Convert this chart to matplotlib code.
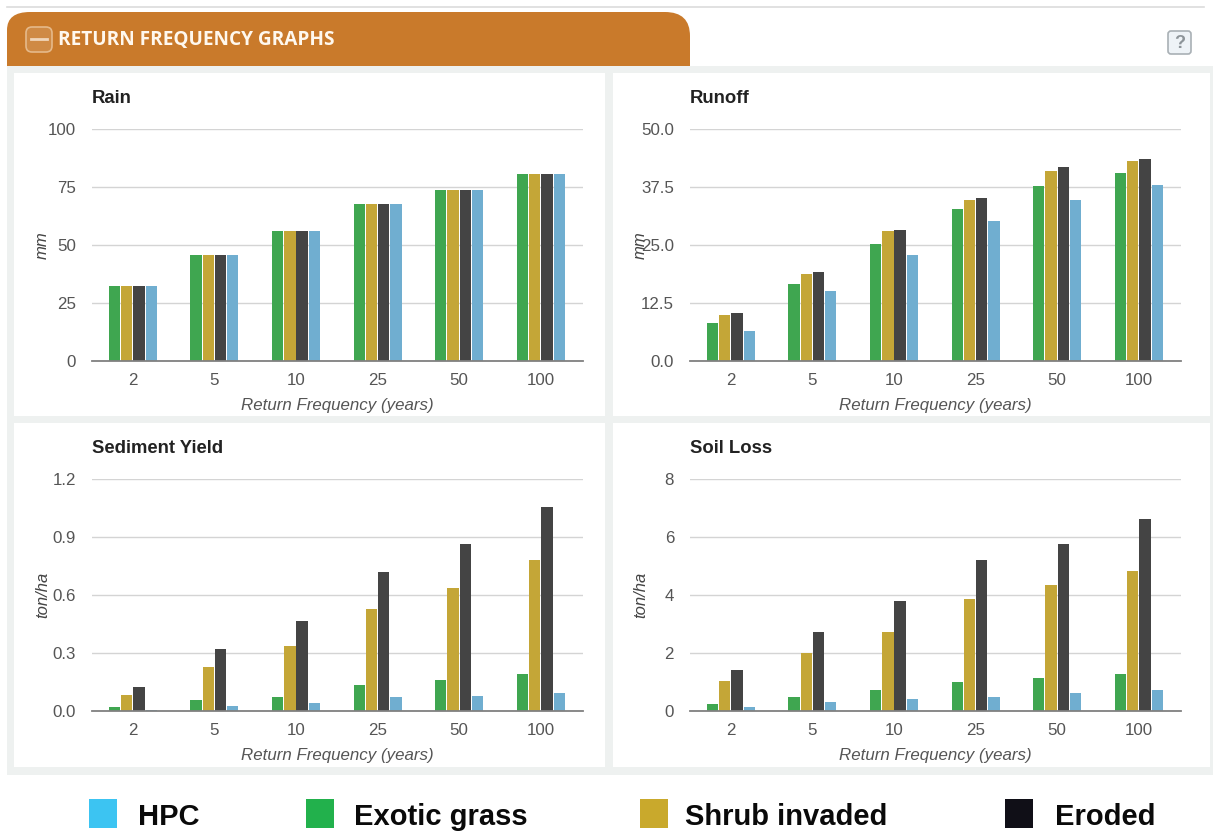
import matplotlib
matplotlib.use("Agg")
import matplotlib.pyplot as plt
import numpy as np
from matplotlib.patches import Rectangle, FancyBboxPatch, PathPatch
from matplotlib.path import Path

W, H = 1213, 831
plt.rcParams['font.family'] = ['Liberation Sans', 'DejaVu Sans']

categories = ['2', '5', '10', '25', '50', '100']
xlabel = 'Return Frequency (years)'

rain_green = [32.5, 45.5, 56, 67.5, 73.5, 80.5]
rain_gold = [32.5, 45.5, 56, 67.5, 73.5, 80.5]
rain_dark = [32.5, 45.5, 56, 67.5, 73.5, 80.5]
rain_blue = [32.5, 45.5, 56, 67.5, 73.5, 80.5]
rain_ticks = ['0', '25', '50', '75', '100']

runoff_green = [8.2, 16.7, 25.3, 32.7, 37.7, 40.5]
runoff_gold = [10.0, 18.8, 28.0, 34.8, 41.0, 43.0]
runoff_dark = [10.3, 19.2, 28.3, 35.2, 41.8, 43.5]
runoff_blue = [6.5, 15.0, 22.8, 30.2, 34.8, 38.0]
runoff_ticks = ['0.0', '12.5', '25.0', '37.5', '50.0']

sed_green = [0.02, 0.055, 0.075, 0.135, 0.16, 0.19]
sed_gold = [0.085, 0.23, 0.335, 0.53, 0.635, 0.78]
sed_dark = [0.125, 0.32, 0.465, 0.72, 0.865, 1.055]
sed_blue = [0.005, 0.025, 0.04, 0.07, 0.08, 0.095]
sed_ticks = ['0.0', '0.3', '0.6', '0.9', '1.2']

soil_green = [0.25, 0.5, 0.72, 1.0, 1.15, 1.27]
soil_gold = [1.05, 2.0, 2.72, 3.85, 4.33, 4.82]
soil_dark = [1.42, 2.72, 3.8, 5.22, 5.77, 6.62]
soil_blue = [0.13, 0.3, 0.42, 0.5, 0.62, 0.73]
soil_ticks = ['0', '2', '4', '6', '8']

legend_labels = ['HPC', 'Exotic grass', 'Shrub invaded', 'Eroded']
legend_colors = ['#3cc4f2', '#22b14c', '#c9a92c', '#100f17']
bar_colors = ['#3fa650', '#c4a637', '#444444', '#70aed0']

fig = plt.figure(figsize=(W / 100, H / 100), dpi=100, facecolor='white')

# page chrome, in pixel coordinates
bg = fig.add_axes([0, 0, 1, 1], zorder=0)
bg.set_xlim(0, W); bg.set_ylim(H, 0); bg.axis('off')
bg.plot([7, 1204], [7, 7], color='#dcdcdc', lw=1.2)
bg.add_patch(Rectangle((7, 66), 1206, 709, fc='#eef1f0', ec='none'))
verts = [(7, 66), (7, 30), (7, 12), (30, 12), (665, 12), (690, 12), (690, 36), (690, 66), (7, 66)]
codes = [Path.MOVETO, Path.LINETO, Path.CURVE3, Path.CURVE3, Path.LINETO,
         Path.CURVE3, Path.CURVE3, Path.LINETO, Path.CLOSEPOLY]
bg.add_patch(PathPatch(Path(verts, codes), fc='#c97a2b', ec='none'))
bg.add_patch(FancyBboxPatch((26, 27), 26, 25, boxstyle='round,pad=0,rounding_size=6',
                            fc='#cf8a45', ec='#e5b98a', lw=1.2))
bg.plot([31, 47], [39, 39], color='#f0d6ba', lw=2)
bg.text(58, 38, 'RETURN FREQUENCY GRAPHS', color='#fff8ee', fontsize=13.65,
        fontweight='bold', family=['Open Sans', 'DejaVu Sans'], va='center_baseline', ha='left')
bg.add_patch(FancyBboxPatch((1168, 31), 23, 23, boxstyle='round,pad=0,rounding_size=3',
                            fc='#eef3f7', ec='#a9b0b5', lw=1.2))
bg.text(1179.5, 43, '?', color='#8d9499', fontsize=13, fontweight='bold', ha='center', va='center')

panels = [
    (14, 73, 591, 343), (613, 73, 597, 343),
    (14, 423, 591, 344), (613, 423, 597, 344),
]
for x, y, w, h in panels:
    bg.add_patch(Rectangle((x, y), w, h, fc='white', ec='none'))

charts = [
    ('Rain', 'mm', 92, 129, 100, rain_ticks, [rain_green, rain_gold, rain_dark, rain_blue]),
    ('Runoff', 'mm', 690, 129, 50, runoff_ticks, [runoff_green, runoff_gold, runoff_dark, runoff_blue]),
    ('Sediment Yield', 'ton/ha', 92, 479, 1.2, sed_ticks, [sed_green, sed_gold, sed_dark, sed_blue]),
    ('Soil Loss', 'ton/ha', 690, 479, 8, soil_ticks, [soil_green, soil_gold, soil_dark, soil_blue]),
]
AW, AH = 491, 232
bw = 0.15
for title, unit, px, py, ymax, ticks, series in charts:
    ax = fig.add_axes([px / W, 1 - (py + AH) / H, AW / W, AH / H], zorder=1)
    ax.patch.set_alpha(0)
    x = np.arange(len(categories))
    for i, (vals, c) in enumerate(zip(series, bar_colors)):
        ax.bar(x + (i - 1.5) * bw, vals, width=bw * 0.92, color=c, zorder=3)
    ax.set_xlim(-0.5, 5.517)
    ax.set_ylim(0, ymax)
    ax.set_yticks(np.linspace(0, ymax, 5), ticks)
    ax.set_xticks(x, categories)
    ax.grid(axis='y', color='#d4d4d4', lw=1.0, zorder=0)
    ax.set_axisbelow(True)
    for s in ['top', 'left', 'right']:
        ax.spines[s].set_visible(False)
    ax.spines['bottom'].set_color('#808080')
    ax.spines['bottom'].set_linewidth(1.3)
    ax.spines['bottom'].set_zorder(4)
    ax.tick_params(axis='both', length=0, labelsize=12.2, labelcolor='#555555')
    ax.tick_params(axis='y', pad=11.5)
    ax.tick_params(axis='x', pad=8.5)
    ax.set_xlabel(xlabel, fontsize=12.2, style='italic', color='#555555', labelpad=7.5)
    bg.text(px - 49.5, py + 116, unit, rotation=90, fontsize=12, style='italic',
            color='#444444', ha='center', va='center')
    bg.text(px, py - 30.5, title, fontsize=13.3, fontweight='bold', color='#222222',
            ha='left', va='center')

# legend
for lx, tx, lab, col in zip([89, 306, 640, 1005], [138, 354, 685, 1055], legend_labels, legend_colors):
    bg.add_patch(Rectangle((lx, 799), 28, 29, fc=col, ec='none'))
    bg.text(tx, 814, lab, fontsize=21, fontweight='bold', color='#0a0a0a',
            ha='left', va='center_baseline')

fig.savefig('out.png', dpi=100, facecolor='white')
